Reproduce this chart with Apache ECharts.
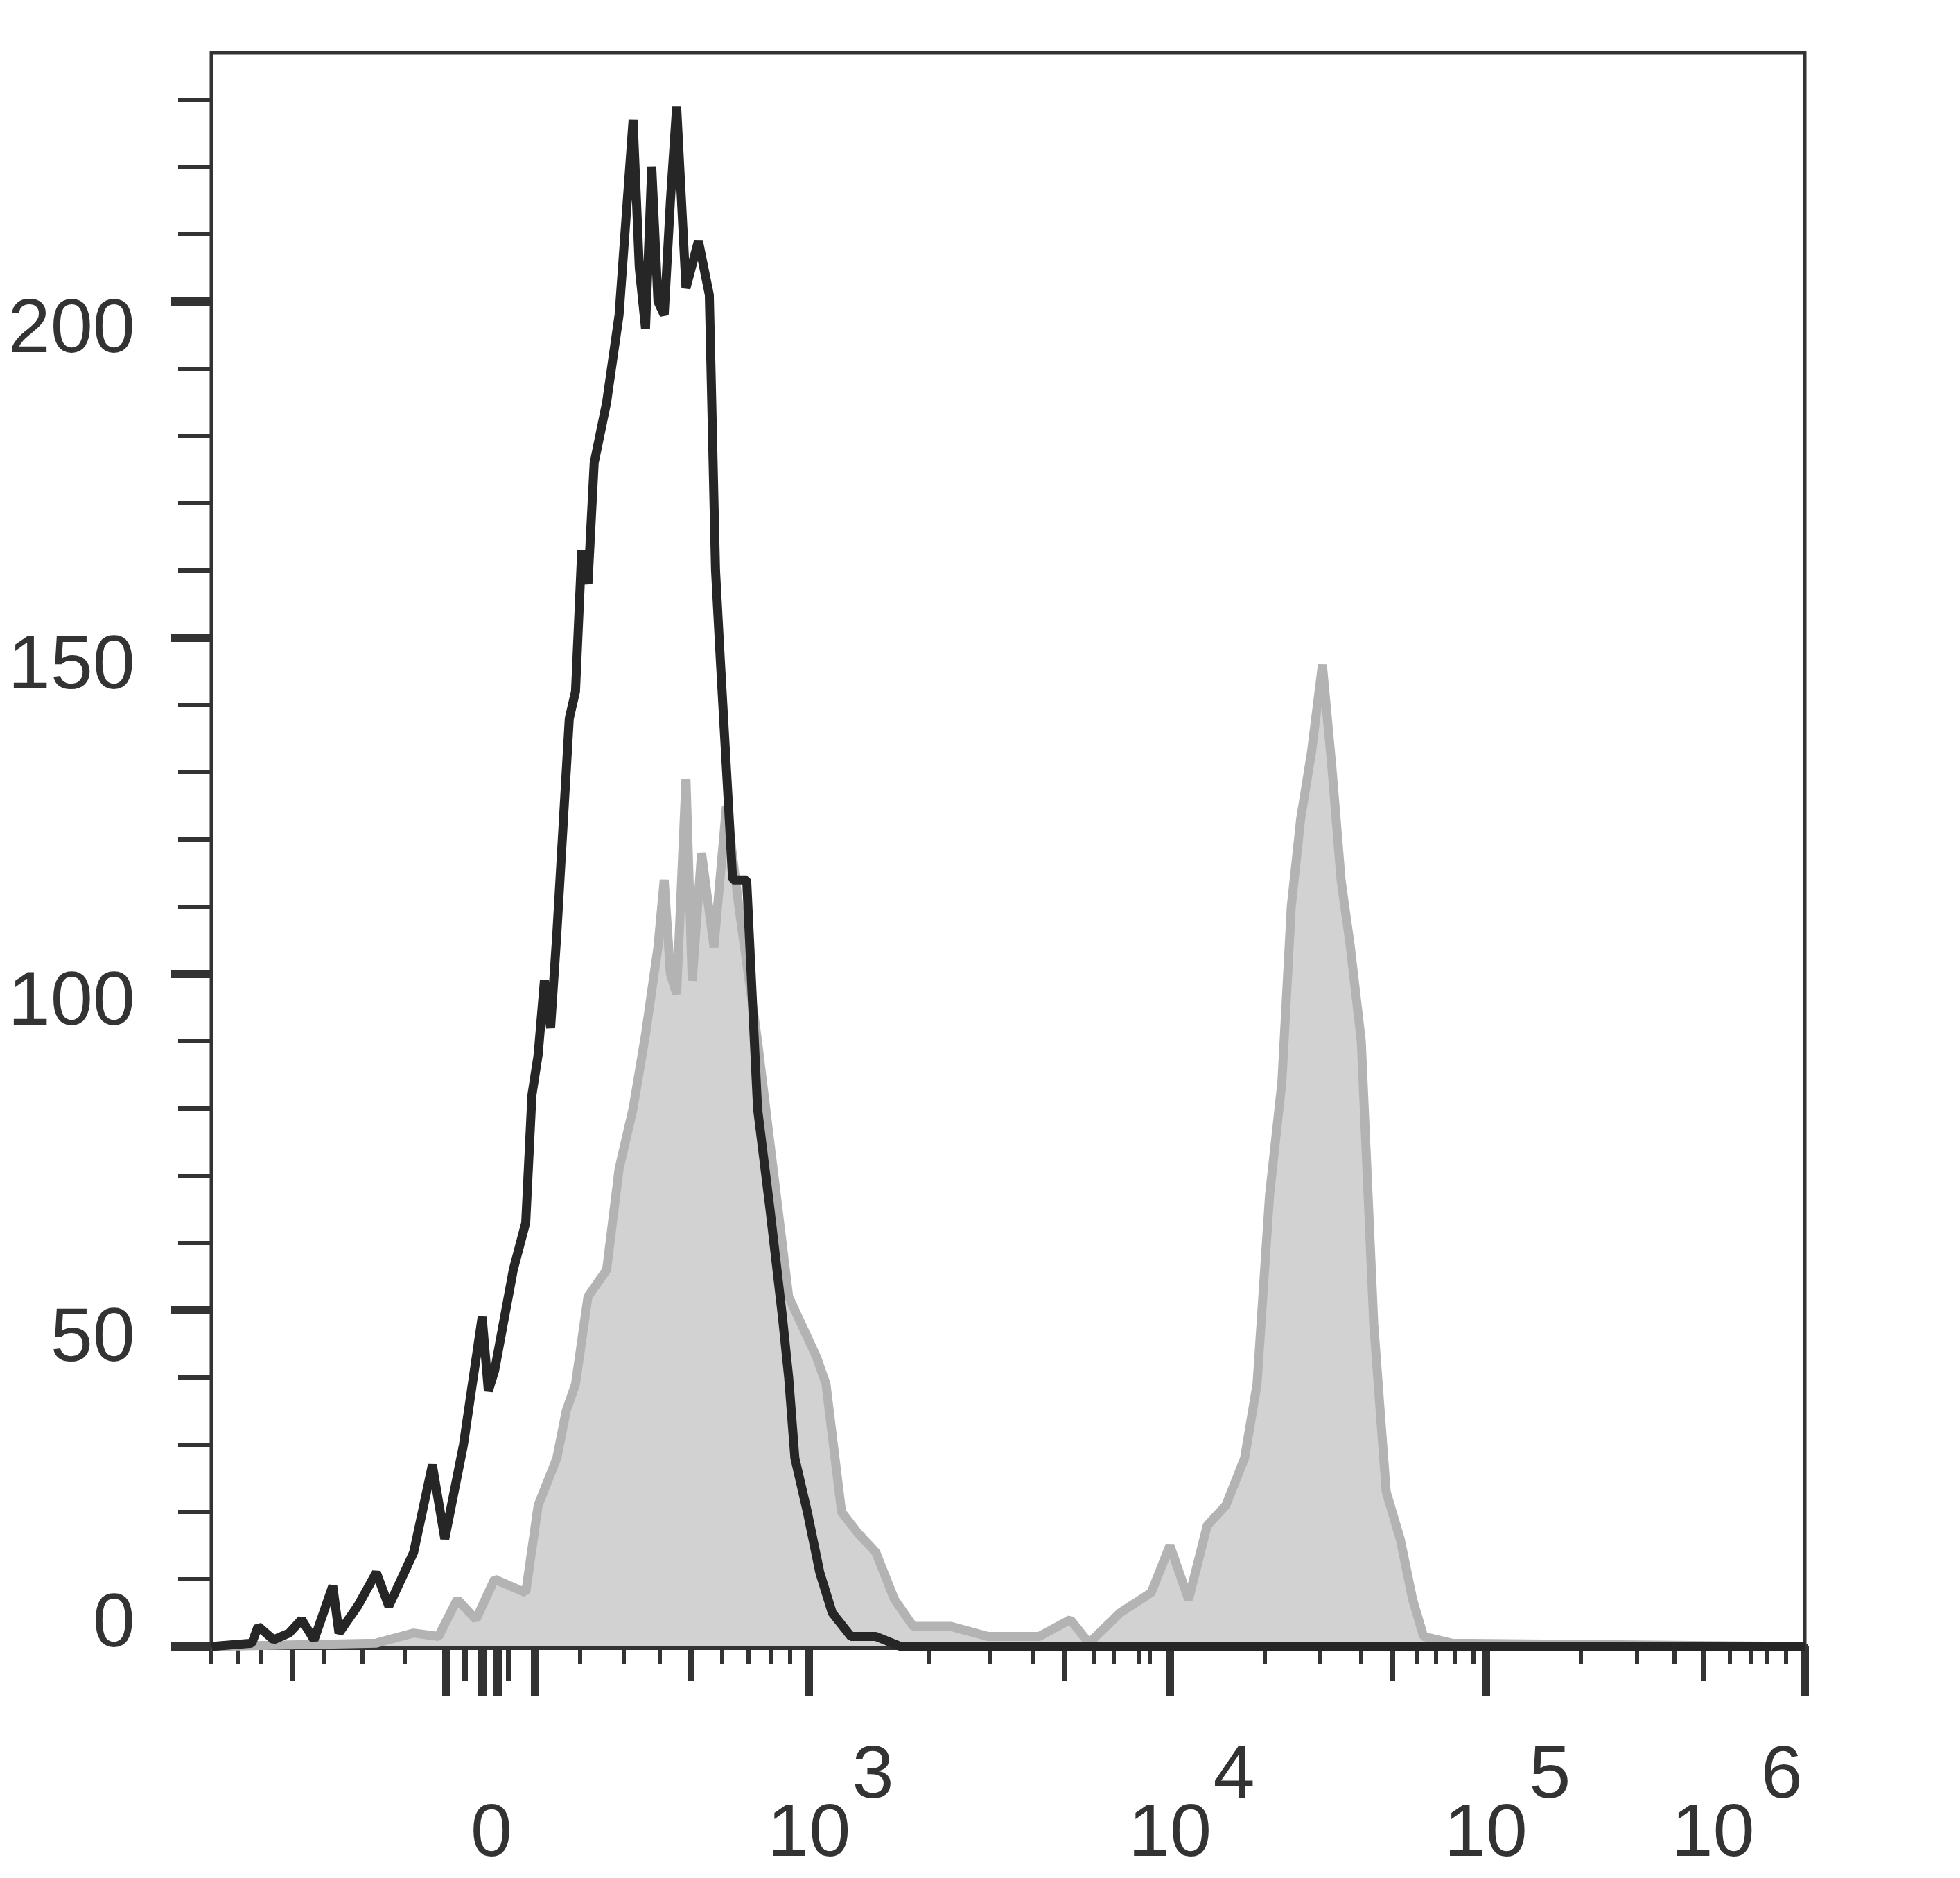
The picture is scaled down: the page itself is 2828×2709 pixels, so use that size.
<!DOCTYPE html>
<html><head><meta charset="utf-8">
<script src="https://cdn.jsdelivr.net/npm/echarts@6/dist/echarts.min.js"></script>
<style>html,body{margin:0;padding:0;background:#fff}#c{width:2828px;height:2709px}</style>
</head><body><div id="c"></div>
<script>
// x in display channel units (0..1024), y = count
const blackSeries = [[0,0],[26,0.5],[30,3],[40,1],[50,2],[58,4],[66,1],[78,9],[82,2],[94,6],[106,11],[114,6],[122,10],[130,14],[142,27],[150,16],[162,30],[174,49],[178,38],[182,41],[194,56],[202,63],[206,82],[210,88],[214,99],[218,92],[222,106],[230,138],[234,142],[238,163],[242,158],[246,176],[254,185],[262,198],[271,227],[275,205],[279,196],[283,220],[287,200],[291,198],[295,215],[299,229],[305,202],[313,209],[320,201],[324,160],[327,147],[335,114],[344,114],[351,80],[359,65],[367,49],[371,40],[375,28],[383,20],[391,11],[399,5],[411,1.5],[427,1.5],[443,0],[1024,0]];
const graySeries = [[0,0],[106,0.5],[130,2],[146,1.5],[158,7],[170,4],[182,10],[202,8],[210,21],[222,28],[228,35],[234,39],[242,52],[254,56],[262,71],[271,80],[279,91],[287,104],[291,114],[295,100],[299,97],[305,129],[309,99],[315,118],[323,104],[331,125],[339,110],[345,100],[351,90],[361,71],[371,52],[377,49],[383,46],[389,43],[395,39],[405,20],[415,17],[427,14],[439,7],[451,3],[475,3],[499,1.5],[532,1.5],[552,4],[564,0.5],[584,5],[604,8],[616,15],[628,7],[640,18],[652,21],[664,28],[672,39],[680,67],[688,84],[694,110],[700,123],[707,133],[714,146],[720,131],[726,114],[732,104],[739,90],[747,48],[755,23],[764,16],[772,7],[779,1.5],[797,0.5],[1024,0]];
const xMajorTicks = [151,174,184,208,384,616,819,1024];
const xMedTicks = [52,163,191,308,548,759,959];
const xMinorTicks = [0,17,32,72,97,124,237,265,288,328,345,360,372,461,500,528,567,580,596,603,677,712,739,775,787,799,811,880,916,940,976,989,1000,1012];
const xLabelValues = [180,384,616,819,965];
const xLabelTexts = ['0','10','10','10','10'];
const xSupValues = [384,616,819,968];
const xSupTexts = ['3','4','5','6'];
const yLabels = [0,50,100,150,200];
const yMinorTicks = [10,20,30,40,60,70,80,90,110,120,130,140,160,170,180,190,210,220,230];

const font = 'Liberation Sans';
const col = '#333';
function xa(ticks,len,w,label){
  return {type:'value',min:0,max:1024,position:'bottom',
    axisLine:{show:true,lineStyle:{color:col,width:9}},
    splitLine:{show:false},
    axisTick:{show:!!ticks,customValues:ticks||[],length:len,inside:false,lineStyle:{color:col,width:w}},
    axisLabel:label||{show:false}};
}
const mainLabel = {show:true,customValues:xLabelValues,margin:218,fontFamily:font,fontSize:108,color:col,
  formatter:(v)=>xLabelTexts[xLabelValues.indexOf(v)]||''};
const supLabel = {show:true,customValues:xSupValues,margin:134,fontFamily:font,fontSize:108,color:col,padding:[0,0,0,185],
  formatter:(v)=>xSupTexts[xSupValues.indexOf(v)]||''};
const chart = echarts.init(document.getElementById('c'));
chart.setOption({
  animation:false,
  grid:{left:305,right:224,top:76,bottom:334,show:true,borderColor:col,borderWidth:5,outerBoundsMode:'none',containLabel:false},
  xAxis:[xa(xMajorTicks,72,12,mainLabel),xa(xMedTicks,50,8,null),xa(xMinorTicks,26,6,null),xa(null,0,0,supLabel)],
  yAxis:[
    {type:'value',min:0,max:237,interval:50,axisLine:{show:true,lineStyle:{color:col,width:5}},splitLine:{show:false},
     axisTick:{show:true,customValues:yLabels,length:58,lineStyle:{color:col,width:12}},
     axisLabel:{margin:110,fontFamily:font,fontSize:110,color:col,customValues:yLabels,verticalAlign:'middle',
       formatter:(v)=>v===0?'{u|0}':'{d|'+v+'}',
       rich:{u:{fontFamily:font,fontSize:110,color:col,padding:[0,0,60,0]},
             d:{fontFamily:font,fontSize:110,color:col,padding:[85,0,0,0]}}}},
    {type:'value',min:0,max:237,position:'left',axisLine:{show:false},splitLine:{show:false},
     axisTick:{show:true,customValues:yMinorTicks,length:48,lineStyle:{color:col,width:6}},axisLabel:{show:false}}
  ],
  series:[
    {type:'line',data:graySeries,symbol:'none',lineStyle:{color:'#b3b3b3',width:13},areaStyle:{color:'#d2d2d2',opacity:1},z:2},
    {type:'line',data:blackSeries,symbol:'none',lineStyle:{color:'#262626',width:13},z:3}
  ]
});
</script></body></html>
